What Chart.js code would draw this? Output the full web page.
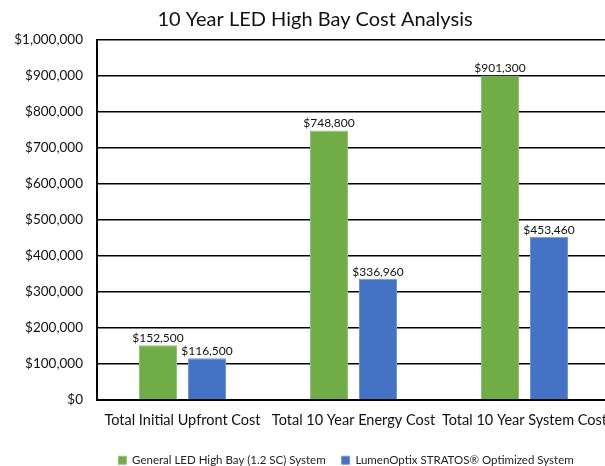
<!DOCTYPE html>
<html>
<head>
<meta charset="utf-8">
<script src="https://cdn.jsdelivr.net/npm/chart.js@4"></script>
<style>
  html, body { margin: 0; padding: 0; background: #fff; overflow: hidden; }
  #wrap { width: 630px; height: 466px; }
</style>
</head>
<body>
<div id="wrap"><canvas id="costChart" width="630" height="466"></canvas></div>
<script>
/* global Chart */

const categories = ['Total Initial Upfront Cost', 'Total 10 Year Energy Cost', 'Total 10 Year System Cost']
const generalLed = [152500, 748800, 901300]
const lumenOptix = [116500, 336960, 453460]
const seriesNames = ['General LED High Bay (1.2 SC) System', 'LumenOptix STRATOS\u00AE Optimized System']
const yTicks = [0, 100000, 200000, 300000, 400000, 500000, 600000, 700000, 800000, 900000, 1000000]

const FONT = 'Lato, "Open Sans", sans-serif'
const money = v => '$' + Number(v).toLocaleString('en-US')

// value labels above each bar
const barValues = {
  id: 'barValues',
  afterDatasetsDraw (chart) {
    const ctx = chart.ctx
    ctx.save()
    ctx.font = '12px ' + FONT
    ctx.fillStyle = '#111'
    ctx.textAlign = 'center'
    ctx.textBaseline = 'middle'
    chart.data.datasets.forEach((ds, i) => {
      chart.getDatasetMeta(i).data.forEach((bar, j) => {
        ctx.fillText(money(ds.data[j]), bar.x, bar.y - 7)
      })
    })
    ctx.restore()
  }
}

// move title / legend to where the original sits
const placeBoxes = {
  id: 'placeBoxes',
  afterLayout (chart) {
    const move = (box, cx, dy) => {
      if (!box) return
      const dx = cx - (box.left + box.right) / 2
      box.left += dx
      box.right += dx
      box.top += dy
      box.bottom += dy
    }
    move(chart.titleBlock, 315, -1)
    move(chart.legend, 346, -3)
  }
}

new Chart(document.getElementById('costChart'), {
  type: 'bar',
  data: {
    labels: categories,
    datasets: [{
      label: seriesNames[0],
      data: generalLed,
      backgroundColor: '#70AD47',
      borderColor: '#93c27a',
      borderWidth: 1
    }, {
      label: seriesNames[1],
      data: lumenOptix,
      backgroundColor: '#4472C4',
      borderColor: '#7497d4',
      borderWidth: 1
    }]
  },
  options: {
    responsive: false,
    animation: false,
    devicePixelRatio: 1,
    layout: { padding: { left: 0, right: 20, top: 0, bottom: -13 } },
    datasets: {
      bar: { categoryPercentage: 0.573, barPercentage: 0.776 }
    },
    plugins: {
      title: {
        display: true,
        text: '10 Year LED High Bay Cost Analysis',
        color: '#111',
        font: { family: FONT, size: 20, weight: 'normal', lineHeight: 1.2 },
        padding: { top: 9, bottom: 7 }
      },
      legend: {
        position: 'bottom',
        labels: {
          color: '#222',
          font: { family: FONT, size: 11.5 },
          boxWidth: 8,
          boxHeight: 8,
          padding: 16
        }
      },
      tooltip: { enabled: false }
    },
    scales: {
      x: {
        grid: { display: false, drawTicks: false },
        border: { display: true, color: '#000', width: 2 },
        ticks: {
          color: '#111',
          font: { family: FONT, size: 14.5 },
          padding: 12,
          maxRotation: 0,
          autoSkip: false
        }
      },
      y: {
        min: 0,
        max: 1000000,
        afterBuildTicks (scale) {
          scale.ticks = yTicks.map(v => ({ value: v }))
        },
        afterFit (scale) {
          scale.width = 97
        },
        grid: { color: '#000', lineWidth: 1.5, drawTicks: false },
        border: { display: true, color: '#000', width: 2 },
        ticks: {
          color: '#111',
          font: { family: FONT, size: 13.5 },
          padding: 14,
          callback: v => money(v)
        }
      }
    }
  },
  plugins: [barValues, placeBoxes]
})
</script>
</body>
</html>
